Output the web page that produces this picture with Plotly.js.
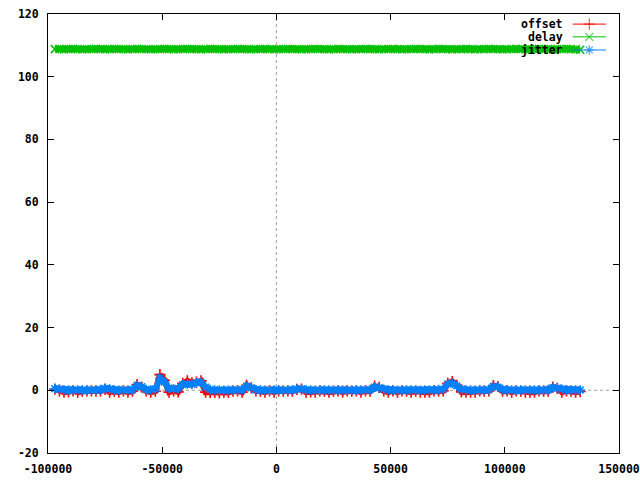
<!DOCTYPE html>
<html>
<head>
<meta charset="utf-8">
<script src="https://cdn.plot.ly/plotly-3.0.1.min.js"></script>
<style>html,body{margin:0;padding:0;background:#fff;}#chart{width:640px;height:480px;}</style>
</head>
<body>
<div id="chart"></div>
<script>
// time (x) values
var timeX = [
-97000,-95000,-93000,-91000,-89000,-87000,-85000,-83000,-81000,-79000,
-77000,-75000,-73000,-71000,-69000,-67000,-65000,-63000,-61000,-59000,
-57000,-55000,-53000,-51000,-49000,-47000,-45000,-43000,-41000,-39000,
-37000,-35000,-33000,-31000,-29000,-27000,-25000,-23000,-21000,-19000,
-17000,-15000,-13000,-11000,-9000,-7000,-5000,-3000,-1000,1000,
3000,5000,7000,9000,11000,13000,15000,17000,19000,21000,
23000,25000,27000,29000,31000,33000,35000,37000,39000,41000,
43000,45000,47000,49000,51000,53000,55000,57000,59000,61000,
63000,65000,67000,69000,71000,73000,75000,77000,79000,81000,
83000,85000,87000,89000,91000,93000,95000,97000,99000,101000,
103000,105000,107000,109000,111000,113000,115000,117000,119000,121000,
123000,125000,127000,129000,131000,133000];

var offsetY = [
0.4,-0.2,-0.6,-0.5,-0.2,-0.6,-0.3,-0.2,-0.2,-0.3,
-0.2,0.3,-0.6,-0.3,-0.6,-0.2,-0.6,-0.3,1.8,1.0,
-0.2,-0.6,-0.3,5.0,3.2,-0.6,-0.2,-0.5,2.2,3.0,
2.4,2.6,3.0,-0.6,-0.7,-0.7,-0.8,-0.6,-0.7,-0.3,
-0.2,-0.6,1.6,0.8,-0.2,-0.3,-0.6,-0.2,-0.6,-0.2,
-0.3,-0.2,-0.3,0.3,0.4,-0.6,-0.5,-0.6,-0.2,-0.3,
-0.6,-0.3,-0.2,-0.6,-0.2,-0.3,-0.2,-0.6,-0.2,-0.3,
1.3,0.9,-0.2,-0.6,-0.2,-0.6,-0.2,-0.3,-0.6,-0.3,
-0.6,-0.6,-0.6,-0.2,-0.3,-0.2,2.2,2.8,1.6,-0.5,
-0.6,-0.6,-0.6,-0.2,-0.3,-0.2,1.5,1.2,-0.3,-0.2,
-0.6,-0.2,-0.3,-0.6,-0.6,-0.6,-0.2,-0.3,-0.3,1.0,
0.6,-0.6,-0.2,-0.3,-0.6,-0.4];

var delayY = [
108.8,108.9,108.7,108.8,108.9,108.8,108.7,108.8,108.8,108.9,
108.8,108.7,108.8,108.9,108.8,108.8,108.7,108.8,108.9,108.8,
108.8,108.7,108.8,108.8,108.9,108.8,108.7,108.8,108.8,108.9,
108.8,108.8,108.7,108.8,108.9,108.8,108.8,108.7,108.8,108.8,
108.9,108.8,108.8,108.7,108.8,108.8,108.9,108.8,108.7,108.8,
108.8,108.9,108.8,108.8,108.7,108.8,108.8,108.9,108.8,108.8,
108.7,108.8,108.9,108.8,108.8,108.7,108.8,108.8,108.9,108.8,
108.8,108.7,108.8,108.8,108.9,108.8,108.7,108.8,108.8,108.9,
108.8,108.8,108.7,108.8,108.9,108.8,108.8,108.7,108.8,108.8,
108.9,108.8,108.7,108.8,108.8,108.9,108.8,108.8,108.7,108.8,
108.8,108.9,108.8,108.7,108.8,108.8,108.9,108.8,108.8,108.7,
108.8,108.8,108.9,108.8,108.7,108.6];

var jitterY = [
0.5,0.4,0.1,0.1,0.0,0.1,0.1,0.0,0.1,0.1,
0.2,0.6,0.4,0.1,0.0,0.1,0.1,0.2,1.5,1.1,
0.2,0.1,0.4,3.8,2.6,0.7,0.4,0.6,1.8,2.0,
1.9,2.4,2.6,1.0,0.2,0.1,0.1,0.0,0.1,0.1,
0.1,0.2,1.3,0.8,0.1,0.1,0.0,0.1,0.1,0.1,
0.0,0.1,0.1,0.4,0.5,0.1,0.1,0.0,0.1,0.1,
0.1,0.0,0.1,0.1,0.1,0.0,0.1,0.1,0.1,0.2,
1.0,0.8,0.3,0.1,0.1,0.0,0.1,0.1,0.1,0.1,
0.0,0.1,0.1,0.1,0.2,0.3,2.0,2.2,1.4,0.4,
0.1,0.1,0.0,0.1,0.1,0.2,1.2,1.0,0.3,0.1,
0.1,0.0,0.1,0.1,0.1,0.1,0.0,0.1,0.2,0.8,
0.7,0.3,0.1,0.1,0.1,0.1];

var seriesNames = ["offset", "delay", "jitter"];
var seriesColors = ["#ff0000", "#00c000", "#0080ff"];
var seriesSymbols = ["cross-thin-open", "x-thin-open", "asterisk-open"];

var xTickVals = [-100000, -50000, 0, 50000, 100000, 150000];
var xTickText = ["-100000", "-50000", "0", "50000", "100000", "150000"];
var yTickVals = [-20, 0, 20, 40, 60, 80, 100, 120];
var yTickText = ["-20", "0", "20", "40", "60", "80", "100", "120"];

var font = {family: "DejaVu Sans Mono", size: 11.5, color: "#000", weight: "bold"};
var seriesY = [offsetY, delayY, jitterY];

var traces = seriesY.map(function (ys, i) {
  return {
    type: "scatter", mode: "lines+markers", x: timeX, y: ys,
    name: seriesNames[i], showlegend: false, cliponaxis: true,
    line: {color: seriesColors[i], width: 6},
    marker: {symbol: seriesSymbols[i], size: 8, color: seriesColors[i], line: {color: seriesColors[i], width: 1.6}}
  };
});

// gnuplot-style key: text, then sample line with point (in paper-like overlay axis)
var keyRows = [0.977, 0.948, 0.918];
var keyLineX = [0.919, 0.948, 0.977];
var keyTextX = 0.905;
var annotations = [];
seriesNames.forEach(function (n, i) {
  traces.push({
    type: "scatter", mode: "lines+markers", xaxis: "x2", yaxis: "y2",
    x: keyLineX, y: [keyRows[i], keyRows[i], keyRows[i]], showlegend: false, hoverinfo: "skip",
    line: {color: seriesColors[i], width: 1},
    marker: {symbol: seriesSymbols[i], size: [0, 8, 0], color: seriesColors[i], line: {color: seriesColors[i], width: 1.2}}
  });
  annotations.push({
    xref: "paper", yref: "paper", x: keyTextX, y: keyRows[i], xanchor: "right", yanchor: "middle",
    text: n, showarrow: false, font: {family: "DejaVu Sans Mono", size: 11.5, color: "#000", weight: "bold"}
  });
});

var layout = {
  width: 640, height: 480,
  margin: {l: 48, r: 21, t: 14, b: 27},
  paper_bgcolor: "#fff", plot_bgcolor: "#fff",
  showlegend: false,
  font: font,
  xaxis: {
    range: [-100000, 150000], tickvals: xTickVals, ticktext: xTickText,
    ticks: "inside", ticklen: 6, tickcolor: "#000", tickwidth: 1,
    showline: true, mirror: "ticks", linecolor: "#000", linewidth: 1,
    showgrid: false, zeroline: false, tickfont: font, ticklabelstandoff: 5
  },
  yaxis: {
    range: [-20, 120], tickvals: yTickVals, ticktext: yTickText,
    ticks: "inside", ticklen: 6, tickcolor: "#000", tickwidth: 1,
    showline: true, mirror: "ticks", linecolor: "#000", linewidth: 1,
    showgrid: false, zeroline: false, tickfont: font, ticklabelstandoff: 6
  },
  xaxis2: {overlaying: "x", range: [0, 1], visible: false, fixedrange: true},
  yaxis2: {overlaying: "y", range: [0, 1], visible: false, fixedrange: true},
  shapes: [
    {type: "line", xref: "x", yref: "paper", x0: 0, x1: 0, y0: 0, y1: 1, layer: "below",
     line: {color: "#a0a0a0", width: 1, dash: "dot"}},
    {type: "line", xref: "paper", yref: "y", x0: 0, x1: 1, y0: 0, y1: 0, layer: "below",
     line: {color: "#a0a0a0", width: 1, dash: "dot"}}
  ],
  annotations: annotations
};

Plotly.newPlot("chart", traces, layout, {staticPlot: true, displayModeBar: false});
</script>
</body>
</html>
